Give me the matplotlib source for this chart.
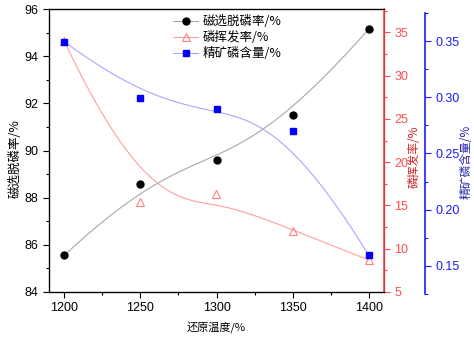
import numpy as np
import matplotlib
matplotlib.use('Agg')
import matplotlib.pyplot as plt
from matplotlib.ticker import MultipleLocator
from matplotlib.lines import Line2D

plt.rcParams['font.family'] = ['Liberation Sans', 'Noto Sans CJK SC', 'DejaVu Sans']

# data
temps = [1200, 1250, 1300, 1350, 1400]
dephos = [85.55, 88.57, 89.58, 91.5, 95.15]       # 磁选脱磷率/%
volat = [34.0, 15.4, 16.3, 12.1, 8.7]             # 磷挥发率/%
p_conc = [0.3495, 0.2997, 0.2896, 0.2698, 0.1594]  # 精矿磷含量/%

labels = ['磁选脱磷率/%', '磷挥发率/%', '精矿磷含量/%']
cjk = ['Noto Sans CJK SC', 'DejaVu Sans']


def bspline(xs, ys, n=200):
    """clamped cubic B-spline with the points as control points (Origin style)"""
    k = 3
    m = len(xs)
    knots = np.concatenate([[0] * k, np.arange(m - k + 1), [m - k] * k]).astype(float)
    u = np.linspace(0, m - k, n)
    u[-1] -= 1e-9

    def basis(i, p, u):
        if p == 0:
            return ((knots[i] <= u) & (u < knots[i + 1])).astype(float)
        a = 0.0
        b = 0.0
        if knots[i + p] != knots[i]:
            a = (u - knots[i]) / (knots[i + p] - knots[i]) * basis(i, p - 1, u)
        if knots[i + p + 1] != knots[i + 1]:
            b = (knots[i + p + 1] - u) / (knots[i + p + 1] - knots[i + 1]) * basis(i + 1, p - 1, u)
        return a + b

    B = np.array([basis(i, k, u) for i in range(m)])
    return B.T @ np.array(xs, float), B.T @ np.array(ys, float)


fig = plt.figure(figsize=(4.74, 3.37), dpi=100)
L, R = 49 / 474, 384 / 474
ax = fig.add_axes([L, 1 - 292 / 337, R - L, (292 - 9) / 337])
ax2 = ax.twinx()
ax3 = fig.add_axes([L, 1 - 294 / 337, R - L, (294 - 13) / 337])
ax3.patch.set_visible(False)

red = '#ff4d4d'
blue = '#1a1aff'

# black series
sx, sy = bspline(temps, dephos)
ax.plot(sx, sy, color='#a8a8a8', lw=0.8)
ax.plot(temps, dephos, 'o', color='black', ms=5)

# red series
sx, sy = bspline(temps, volat)
ax2.plot(sx, sy, color='#ffa0a0', lw=0.8)
ax2.plot(temps, volat, '^', mfc='none', mec='#ff8080', ms=6, mew=0.8)

# blue series
sx, sy = bspline(temps, p_conc)
ax3.plot(sx, sy, color='#a8a8ff', lw=0.8)
ax3.plot(temps, p_conc, 's', color='#0000ff', ms=4.5)

for a in (ax, ax2, ax3):
    a.set_xlim(1190, 1410)

ax.set_ylim(84, 96)
ax2.set_ylim(5, 37.7)
ax3.set_ylim(0.125, 0.375)

ax.xaxis.set_major_locator(MultipleLocator(50))
ax.xaxis.set_minor_locator(MultipleLocator(25))
ax.yaxis.set_major_locator(MultipleLocator(2))
ax.yaxis.set_minor_locator(MultipleLocator(1))
ax.tick_params(which='both', direction='out', labelsize=9, top=False, right=False)
ax.tick_params(which='major', length=4, width=0.8)
ax.tick_params(which='minor', length=2.5, width=0.8)
for s in ax.spines.values():
    s.set_linewidth(0.9)

ax2.yaxis.set_major_locator(MultipleLocator(5))
ax2.yaxis.set_minor_locator(MultipleLocator(2.5))
ax2.tick_params(which='both', direction='out', labelsize=9, colors=red, width=0.8)
ax2.tick_params(which='major', length=4)
ax2.tick_params(which='minor', length=2.5)
ax2.spines['right'].set_color(red)
ax2.spines['right'].set_linewidth(1.2)

for side in ('left', 'top', 'bottom'):
    ax3.spines[side].set_visible(False)
ax3.spines['right'].set_position(('outward', 29.5))
ax3.spines['right'].set_color(blue)
ax3.spines['right'].set_linewidth(1.2)
ax3.yaxis.tick_right()
ax3.yaxis.set_label_position('right')
ax3.set_xticks([])
ax3.yaxis.set_major_locator(MultipleLocator(0.05))
ax3.yaxis.set_minor_locator(MultipleLocator(0.025))
ax3.tick_params(which='both', direction='out', labelsize=9, colors=blue, width=0.8)
ax3.tick_params(which='major', length=4)
ax3.tick_params(which='minor', length=2.5)

ax.set_xlabel('还原温度/%', family=cjk, fontsize=8, labelpad=5)
ax.set_ylabel(labels[0], family=cjk, fontsize=9)
ax.yaxis.set_label_coords((22 - 49) / 335, 0.47)
ax2.set_ylabel(labels[1], family=cjk, fontsize=8.5, color='#cc2222')
ax2.yaxis.set_label_coords((408 - 49) / 335, 0.477)
ax3.set_ylabel(labels[2], family=cjk, fontsize=8.5, color='#2a2aaa')
ax3.yaxis.set_label_coords((460 - 49) / 335, 0.47)

handles = [
    Line2D([], [], color='#a8a8a8', lw=0.8, marker='o', mfc='black', mec='black', ms=5),
    Line2D([], [], color='#ffa0a0', lw=0.8, marker='^', mfc='none', mec='#ff8080', ms=6, mew=0.8),
    Line2D([], [], color='#a8a8ff', lw=0.8, marker='s', mfc='#0000ff', mec='#0000ff', ms=4.5),
]
ax3.legend(handles, labels, loc='upper left', bbox_to_anchor=(173 / 474, 1 - 15 / 337),
           bbox_transform=fig.transFigure, frameon=False, prop={'family': cjk, 'size': 9},
           handlelength=2.0, handletextpad=0.4, labelspacing=0.25, borderpad=0, borderaxespad=0)

fig.savefig('out.png', dpi=100)
